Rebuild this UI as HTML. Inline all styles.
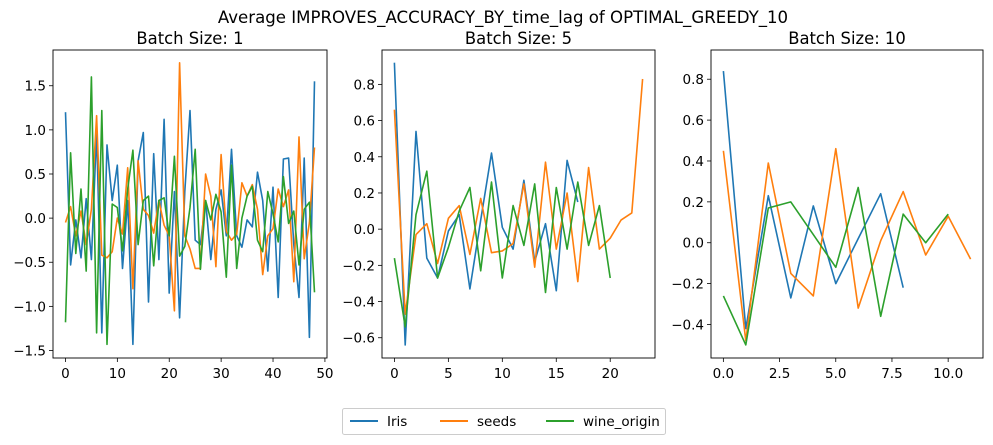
<!DOCTYPE html>
<html><head><meta charset="utf-8"><style>
body{margin:0;background:#fff;}
svg{display:block;font-family:"DejaVu Sans","Liberation Sans",sans-serif;}
</style></head><body>
<svg id="chart" width="993" height="445" viewBox="0 0 993 445">
<text x="503" y="23" text-anchor="middle" font-size="16.6" fill="#000">Average IMPROVES_ACCURACY_BY_time_lag of OPTIMAL_GREEDY_10</text>
<g id="panels"></g>
<g>
<rect x="342.5" y="408.5" width="323" height="26" fill="#fff" stroke="#ccc" rx="2"/>
<line x1="350" y1="421" x2="378" y2="421" stroke="#1f77b4" stroke-width="2"/>
<text x="387" y="426" font-size="13.5">Iris</text>
<line x1="440" y1="421" x2="468" y2="421" stroke="#ff7f0e" stroke-width="2"/>
<text x="477" y="426" font-size="13.5">seeds</text>
<line x1="546" y1="421" x2="574" y2="421" stroke="#2ca02c" stroke-width="2"/>
<text x="583" y="426" font-size="13.5">wine_origin</text>
</g>
</svg>
<script>
const p1Iris=[1.2,-0.53,-0.02,-0.45,0.22,-0.47,0.98,-1.3,0.83,0.2,0.6,-0.57,0.2,-1.43,0.65,0.97,-0.95,0.73,-0.47,1.12,-0.85,0.3,-1.13,0.3,1.22,-0.25,-0.3,0.2,-0.47,0.1,0.32,-0.2,0.78,-0.2,-0.33,-0.02,-0.1,0.52,0.2,-0.6,0.35,-0.9,0.67,0.68,-0.3,-0.9,0.68,-1.35,1.55];
const p1Seeds=[-0.05,0.13,-0.2,0.08,-0.3,0.1,1.16,-0.42,-0.45,-0.38,0.0,-0.18,0.57,-0.8,0.65,0.1,0.03,-0.17,0.2,-0.08,-0.2,-1.05,1.76,-0.2,-0.35,-0.57,-0.57,0.5,0.25,-0.55,0.72,-0.15,-0.25,-0.18,0.4,0.25,0.38,0.1,-0.64,-0.2,-0.12,0.33,0.13,0.32,-0.72,0.92,-0.46,-0.05,0.8];
const p1Wine=[-1.18,0.74,-0.4,0.33,-0.6,1.6,-1.3,1.22,-1.43,0.16,0.12,-0.37,0.33,0.77,-0.3,0.2,0.25,-0.54,0.2,0.23,-0.2,0.7,-0.43,-0.32,0.12,0.78,-0.58,0.2,-0.02,0.27,0.07,-0.67,0.6,-0.57,0.0,0.25,0.36,-0.25,-0.38,0.3,0.05,-0.27,0.47,-0.06,0.08,-0.53,0.1,0.18,-0.84];
const p2Iris=[0.92,-0.64,0.54,-0.16,-0.27,-0.01,0.08,-0.33,0.05,0.42,0.01,-0.11,0.27,-0.18,0.03,-0.34,0.38,0.15];
const p2Seeds=[0.66,-0.47,-0.03,0.03,-0.19,0.06,0.13,-0.14,0.17,-0.13,-0.12,-0.08,0.25,-0.21,0.37,-0.11,0.2,-0.29,0.34,-0.11,-0.05,0.05,0.09,0.83];
const p2Wine=[-0.16,-0.54,0.08,0.32,-0.27,-0.1,0.1,0.23,-0.23,0.26,-0.27,0.13,-0.09,0.25,-0.35,0.23,-0.11,0.26,-0.09,0.13,-0.27];
const p3Iris=[0.84,-0.42,0.23,-0.27,0.18,-0.2,0.02,0.24,-0.22];
const p3Seeds=[0.45,-0.48,0.39,-0.15,-0.26,0.46,-0.32,0.01,0.25,-0.06,0.13,-0.08];
const p3Wine=[-0.26,-0.5,0.17,0.2,0.04,-0.12,0.27,-0.36,0.14,0.0,0.14];
const p1XTicks=[0,10,20,30,40,50];
const p1YTicks=[-1.5,-1.0,-0.5,0.0,0.5,1.0,1.5];
const p2XTicks=[0,5,10,15,20];
const p2YTicks=[-0.6,-0.4,-0.2,0.0,0.2,0.4,0.6,0.8];
const p3XTicks=[0.0,2.5,5.0,7.5,10.0];
const p3YTicks=[-0.4,-0.2,0.0,0.2,0.4,0.6,0.8];
const panelTitles=["Batch Size: 1","Batch Size: 5","Batch Size: 10"];

const NS="http://www.w3.org/2000/svg";
const root=document.getElementById('panels');
function mk(tag,attrs,parent){const e=document.createElementNS(NS,tag);for(const k in attrs)e.setAttribute(k,attrs[k]);parent.appendChild(e);return e;}
const colors=["#1f77b4","#ff7f0e","#2ca02c"];
const names=["iris","seeds","wine-origin"];
const panels=[
 {box:[53,50,327,358],xr:[-2.4,50.4],yr:[-1.585,1.905],xt:p1XTicks,yt:p1YTicks,dec:1,xdec:0,series:[p1Iris,p1Seeds,p1Wine]},
 {box:[382,50,655,358],xr:[-1.15,24.15],yr:[-0.712,0.99],xt:p2XTicks,yt:p2YTicks,dec:1,xdec:0,series:[p2Iris,p2Seeds,p2Wine]},
 {box:[711,50,983,358],xr:[-0.55,11.55],yr:[-0.564,0.943],xt:p3XTicks,yt:p3YTicks,dec:1,xdec:1,series:[p3Iris,p3Seeds,p3Wine]}
];
panels.forEach((p,i)=>{
 const [x0,y0,x1,y1]=p.box;
 const sx=v=>x0+(v-p.xr[0])/(p.xr[1]-p.xr[0])*(x1-x0);
 const sy=v=>y1-(v-p.yr[0])/(p.yr[1]-p.yr[0])*(y1-y0);
 const g=mk('g',{},root);
 
 
 const t=mk('text',{x:(x0+x1)/2,y:y0-6,'text-anchor':'middle','font-size':'16.4'},g);
 t.textContent=panelTitles[i];
 
 
 p.series.forEach((s,si)=>{
  const pts=s.map((v,k)=>sx(k).toFixed(1)+','+sy(v).toFixed(1)).join(' ');
  const pl=mk('polyline',{points:pts,fill:'none',stroke:colors[si],'stroke-width':'1.6','stroke-linejoin':'round'},g);
  
  
 });
 mk('rect',{x:x0,y:y0,width:x1-x0,height:y1-y0,fill:'none',stroke:'#000','stroke-width':'0.9'},g);
 p.xt.forEach(v=>{
  const x=sx(v);
  mk('line',{x1:x,y1:y1,x2:x,y2:y1+4,stroke:'#000','stroke-width':'0.8'},g);
  const tt=mk('text',{x:x,y:y1+20,'text-anchor':'middle','font-size':'13.5'},g);
  tt.textContent=v.toFixed(p.xdec);
  
  
 });
 p.yt.forEach(v=>{
  const y=sy(v);
  mk('line',{x1:x0-4,y1:y,x2:x0,y2:y,stroke:'#000','stroke-width':'0.8'},g);
  const tt=mk('text',{x:x0-7,y:y+5,'text-anchor':'end','font-size':'13.5'},g);
  tt.textContent=v.toFixed(p.dec).replace('-','\u2212');
  
  
 });
});
</script>
</body></html>
